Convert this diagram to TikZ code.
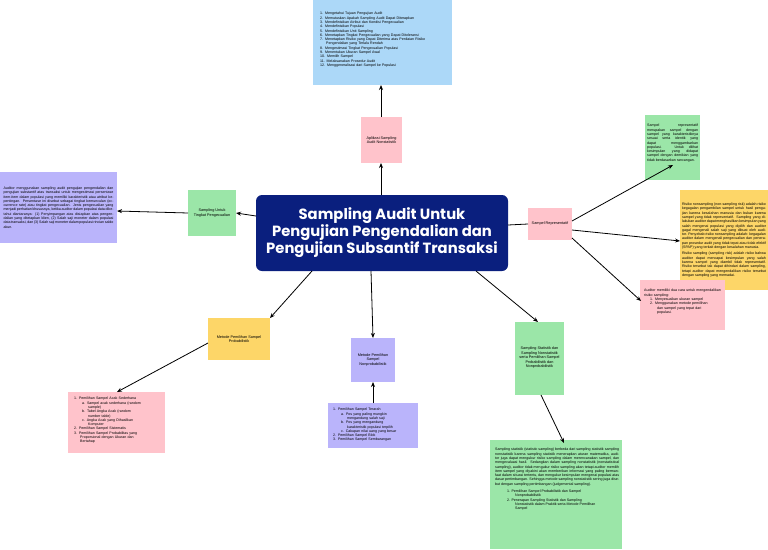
\documentclass[tikz,border=0pt]{standalone}
\usepackage{fontspec}
\setmainfont{Liberation Sans}
\newfontfamily\titlefont{Poppins}
\usetikzlibrary{arrows.meta}
\definecolor{cblue}{HTML}{ACD8F8}
\definecolor{cpink}{HTML}{FFC3CB}
\definecolor{cgreen}{HTML}{9BE6A8}
\definecolor{cyellow}{HTML}{FDD668}
\definecolor{clav}{HTML}{BAB4FB}
\definecolor{cnavy}{HTML}{0A1F7E}
\begin{document}
\begin{tikzpicture}[x=1pt,y=-1pt,
  box/.style={inner sep=2pt,font=\fontsize{3.6}{4.3}\selectfont,align=justify},
  lab/.style={inner sep=1pt,font=\fontsize{3.8}{4.5}\selectfont,align=center},
  arr/.style={-{Stealth[length=5pt,width=4pt]},line width=0.8pt}]
\useasboundingbox (0,0) rectangle (768,549);
% boxes
\fill[cblue] (313,0) rectangle (452,85);
\node[box,anchor=north west,align=left,text width=130pt] (top) at (318,10) {%
1. Mengetahui Tujuan Pengujian Audit\\
2. Memutuskan Apakah Sampling Audit Dapat Diterapkan\\
3. Mendefinisikan Atribut dan Kondisi Pengecualian\\
4. Mendefinisikan Populasi\\
5. Mendefinisikan Unit Sampling\\
6. Menetapkan Tingkat Pengecualian yang Dapat Ditoleransi\\
7. Menetapkan Risiko yang Dapat Diterima atas Penilaian Risiko\\
\hspace*{6pt}Pengendalian yang Terlalu Rendah\\
8. Mengestimasi Tingkat Pengecualian Populasi\\
9. Menentukan Ukuran Sampel Awal\\
10. Memilih Sampel\\
11. Melaksanakan Prosedur Audit\\
12. Menggeneralisasi dari Sampel ke Populasi};
\coordinate (topb) at (381,85);

\fill[cpink] (361,117) rectangle (402,163);
\node[lab] (apl) at (381.5,140) {Aplikasi Sampling\\Audit Nonstatistik};

\fill[cnavy,rounded corners=6pt] (256,195) rectangle (508,271);
\node[font=\titlefont\fontsize{14.8}{17}\selectfont\bfseries,text=white,align=center] (main) at (382,233)
  {Sampling Audit Untuk\\Pengujian Pengendalian dan\\Pengujian Subsantif Transaksi};

\fill[cgreen] (188,190) rectangle (236,236);
\node[lab] (tp) at (212,213) {Sampling Untuk\\Tingkat Pengecualian};

\fill[clav] (0,172) rectangle (117,243);
\node[box,text width=110pt] (lav) at (58.5,207.5) {Auditor menggunakan sampling audit pengujian pengendalian dan pengujian substantif atas transaksi untuk mengestimasi persentase item-item dalam populasi yang memiliki karakteristik atau atribut kepentingan. Persentase ini disebut sebagai tingkat kemunculan (occurrence rate) atau tingkat pengecualian. Jenis pengecualian yang menjadi perhatian khususnya, ketika auditor dalam populasi data diketahui diantaranya: (1) Penyimpangan atas disiapkan atas pengendalian yang ditetapkan klien, (2) Salah saji moneter dalam populasi data transaksi, dan (3) Salah saji moneter dalam populasi rincian saldo akun.};

\fill[cpink] (528,208) rectangle (572,240);
\node[lab] (rep) at (550,224) {Sampel Representatif};

\fill[cgreen] (645,115) rectangle (700,180);
\node[box,anchor=north west,text width=51pt] (g1) at (645,122) {Sampel representatif merupakan sampel dengan sampel yang karakteristiknya sesuai serta identik yang dapat menggambarkan populasi. Untuk dilihat kesimpulan yang didapat sampel dengan demikian yang tidak berdasarkan rancangan.};

\fill[cyellow] (680,190) rectangle (768,290);
\node[box,text width=84pt] (y1) at (724,240) {Risiko nonsampling (non-sampling risk) adalah risiko kegagalan pengambilan sampel untuk hasil pengujian karena kesalahan manusia dan bukan karena sampel yang tidak representatif. Sampling yang dilakukan auditor dapat menghasilkan kesimpulan yang salah mengenai populasi yang dipilih dan auditor gagal mengenali salah saji yang dibuat oleh auditor. Penyebab risiko nonsampling adalah: kegagalan auditor dalam mengenali pengecualian dan penerapan prosedur audit yang tidak tepat atau tidak efektif (SPAP) yang terkait dengan kesalahan manusia.\par\vspace{2pt}
Risiko sampling (sampling risk) adalah risiko bahwa auditor dapat mencapai kesimpulan yang salah karena sampel yang diambil tidak representatif. Risiko tersebut tak dapat dihindari dalam sampling, tetapi auditor dapat mengendalikan risiko tersebut dengan sampling yang memadai.};

\fill[cpink] (640,280) rectangle (725,330);
\node[box,anchor=north west,align=left,text width=82pt] (p2) at (642,287) {Auditor memiliki dua cara untuk mengendalikan risiko sampling:\\
\hspace*{6pt}1. Menyesuaikan ukuran sampel\\
\hspace*{6pt}2. Menggunakan metode pemilihan\\
\hspace*{13pt}dan sampel yang tepat dari\\
\hspace*{13pt}populasi.};

\fill[cyellow] (208,318) rectangle (270,360);
\node[lab] (mp) at (239,339) {Metode Pemilihan Sampel\\Probabilistik};

\fill[cpink] (68,392) rectangle (165,453);
\node[box,anchor=north west,align=left,text width=92pt] (pp) at (72,395) {%
1. Pemilihan Sampel Acak Sederhana\\
\hspace*{8pt}a. Sampel acak sederhana (random\\\hspace*{14pt}sample)\\
\hspace*{8pt}b. Tabel Angka Acak (random\\\hspace*{14pt}number table)\\
\hspace*{8pt}c. Angka Acak yang Dihasilkan\\\hspace*{14pt}Komputer\\
2. Pemilihan Sampel Sistematis\\
3. Pemilihan Sampel Probabilitas yang\\\hspace*{6pt}Proporsional dengan Ukuran dan\\\hspace*{6pt}Bertahap};

\fill[clav] (351,338) rectangle (395,382);
\node[lab] (mn) at (373,360) {Metode Pemilihan\\Sampel\\Nonprobabilistik};

\fill[clav] (328,403) rectangle (418,448);
\node[box,anchor=north west,align=left,text width=88pt] (pn) at (331,406) {%
1. Pemilihan Sampel Terarah\\
\hspace*{8pt}a. Pos yang paling mungkin\\\hspace*{14pt}mengandung salah saji\\
\hspace*{8pt}b. Pos yang mengandung\\\hspace*{14pt}karakteristik populasi terpilih\\
\hspace*{8pt}c. Cakupan nilai uang yang besar\\
2. Pemilihan Sampel Blok\\
3. Pemilihan Sampel Sembarangan};

\fill[cgreen] (515,322) rectangle (564,395);
\node[lab] (ss) at (539.5,358) {Sampling Statistik dan\\Sampling Nonstatistik\\serta Pemilihan Sampel\\Probabilistik dan\\Nonprobabilistik};

\fill[cgreen] (490,440) rectangle (622,549);
\node[box,anchor=north west,align=justify,text width=124pt] (bg) at (493,446) {Sampling statistik (statistic sampling) berbeda dari sampling statistik sampling nonstatistik karena sampling statistik menerapkan aturan matematika, auditor juga dapat mengukur risiko sampling dalam merencanakan sampel, dan mengevaluasi hasil. Sedangkan dalam sampling nonstatistik (nonstatistical sampling), auditor tidak mengukur risiko sampling akan tetapi auditor memilih item sampel yang diyakini akan memberikan informasi yang paling bermanfaat dalam situasi tertentu, dan mengukur kesimpulan mengenai populasi atas dasar pertimbangan. Sehingga metode sampling nonstatistik sering juga disebut dengan sampling pertimbangan (judgemental sampling).\par\vspace{3pt}
\hspace*{12pt}1. Pemilihan Sampel Probabilistik dan Sampel\\\hspace*{20pt}Nonprobabilistik\\
\hspace*{12pt}2. Penerapan Sampling Statistik dan Sampling\\\hspace*{20pt}Nonstatistik dalam Praktik serta Metode Pemilihan\\\hspace*{20pt}Sampel};

% connectors
\coordinate (mT) at (381,195); \coordinate (aplB) at (381,163); \coordinate (aplT) at (381,117);
\draw[arr] (mT) -- (aplB);
\draw[arr] (aplT) -- (topb);
\coordinate (mL) at (256,216); \coordinate (tpR) at (236,213); \coordinate (tpL) at (188,213); \coordinate (lavR) at (117,211);
\draw[arr] (mL) -- (tpR);
\draw[arr] (tpL) -- (lavR);
\coordinate (mR) at (508,225); \coordinate (repL) at (528,224);
\draw[line width=0.8pt] (mR) -- (repL);
\coordinate (repR) at (572,221); \coordinate (g1B) at (673,165);
\draw[arr] (repR) -- (g1B);
\coordinate (repR2) at (572,230); \coordinate (y1L) at (680,241);
\draw[arr] (repR2) -- (y1L);
\coordinate (repR3) at (572,238); \coordinate (p2L) at (641,301);
\draw[arr] (repR3) -- (p2L);
\coordinate (mB1) at (312,271); \coordinate (mpT) at (270,318);
\draw[arr] (mB1) -- (mpT);
\coordinate (mpL) at (208,343); \coordinate (ppT) at (117,392);
\draw[arr] (mpL) -- (ppT);
\coordinate (mB2) at (371,271); \coordinate (mnT) at (373,338);
\draw[arr] (mB2) -- (mnT);
\coordinate (pnT) at (373,403); \coordinate (mnB) at (373,382);
\draw[arr] (pnT) -- (mnB);
\coordinate (mB3) at (476,271); \coordinate (ssT) at (538,322);
\draw[arr] (mB3) -- (ssT);
\coordinate (ssB) at (541,395); \coordinate (bgT) at (564,443);
\draw[arr] (ssB) -- (bgT);
\end{tikzpicture}
\end{document}
